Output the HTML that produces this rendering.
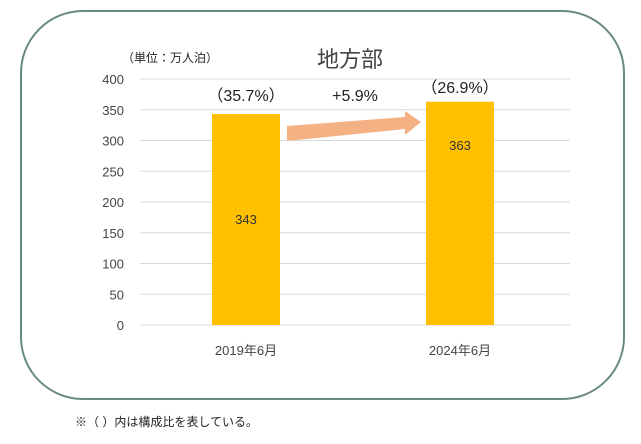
<!DOCTYPE html>
<html><head><meta charset="utf-8"><style>
body{margin:0;background:#fff;width:641px;height:444px;overflow:hidden;font-family:"Liberation Sans","Noto Sans CJK JP",sans-serif;}
</style></head><body>
<svg width="641" height="444" style="position:absolute;left:0;top:0">
<rect x="21" y="11" width="603" height="388" rx="62" ry="62" fill="#fff" stroke="#6b8a85" stroke-width="2"/>
<g id="grid"></g><g id="bars"></g>
<text x="350" y="67" font-size="22" fill="#444" text-anchor="middle">地方部</text>
<text x="122" y="62" font-size="12" fill="#222">（単位：万人泊）</text>
<polygon points="287,126 405,117 405,111 421,122 405,135 405,129 287,141" fill="#f4b183"/>
<text x="355" y="101" font-size="16" fill="#222" text-anchor="middle">+5.9%</text>
<text x="75" y="426" font-size="12" fill="#222">※（ ）内は構成比を表している。</text>
</svg>
<script>
const categories=["2019年6月","2024年6月"];
const values=[343,363];
const shares=["（35.7%）","（26.9%）"];
const ticks=[0,50,100,150,200,250,300,350,400];
const NS="http://www.w3.org/2000/svg";
const y=v=>325-v*246/400;
const xc=i=>246+i*214;
const g=document.getElementById("grid"),b=document.getElementById("bars");
function mk(t,a,p,txt){const e=document.createElementNS(NS,t);for(const k in a)e.setAttribute(k,a[k]);if(txt!=null)e.textContent=txt;p.appendChild(e);return e;}
ticks.forEach(t=>{
 const l=mk("line",{x1:140,x2:570,y1:y(t),y2:y(t),stroke:"#d9d9d9","stroke-width":1},g);
 
 
 const tx=mk("text",{x:124,y:y(t)+5,"font-size":13,fill:"#444","text-anchor":"end"},g,t);
 
 
});
values.forEach((v,i)=>{
 const r=mk("rect",{x:xc(i)-34,y:y(v),width:68,height:325-y(v),fill:"#ffc000"},b);
 
 
 const vl=mk("text",{x:xc(i),y:y(v)+(i==0?110:48),"font-size":13,fill:"#333","text-anchor":"middle"},b,v);
 
 
 const sl=mk("text",{x:xc(i),y:y(v)-(i==0?13:9),"font-size":16,fill:"#222","text-anchor":"middle"},b,shares[i]);
 
 
 const cl=mk("text",{x:xc(i),y:355,"font-size":13,fill:"#444","text-anchor":"middle"},b,categories[i]);
 
 
});
</script>
</body></html>
